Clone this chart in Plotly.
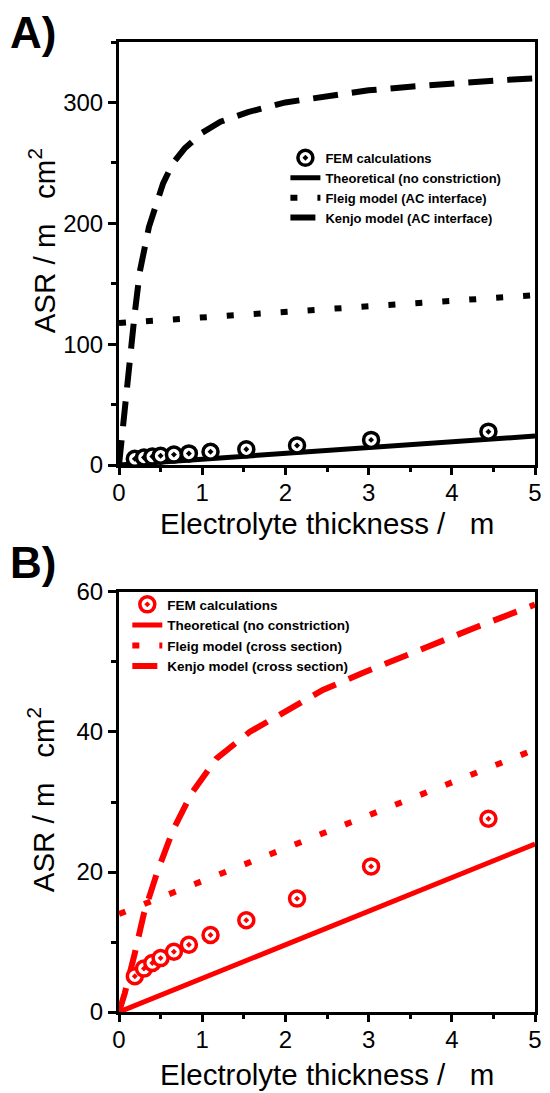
import plotly.graph_objects as go

# ---------------- data ----------------
thickness_fem = [0.19, 0.30, 0.40, 0.50, 0.66, 0.84, 1.10, 1.53, 2.14, 3.03, 4.44]
asr_fem = [5.1, 6.2, 7.0, 7.7, 8.6, 9.6, 11.0, 13.1, 16.2, 20.8, 27.6]

theo_x = [0, 5]
theo_y = [0, 24]

fleig_ac_x = [0, 5]
fleig_ac_y = [117.5, 140.5]

kenjo_ac_x = [0, 0.035, 0.075, 0.12, 0.19, 0.25, 0.36, 0.53, 0.65, 0.79, 1.0, 1.22, 1.55,
              2.0, 2.5, 3.0, 3.5, 4.0, 4.5, 5.0]
kenjo_ac_y = [0, 23, 52, 90, 126, 160, 197, 233, 250, 262, 275, 284, 292,
              300, 305, 310, 313, 316, 318, 320]

fleig_cs_x = [0, 5]
fleig_cs_y = [14.0, 37.5]

kenjo_cs_x = [0, 0.07, 0.19, 0.30, 0.46, 0.65, 0.87, 1.17, 1.57, 2.0, 2.45, 2.92, 3.35,
              3.83, 4.3, 4.78, 5.0]
kenjo_cs_y = [0, 2.7, 8.4, 14.1, 20.0, 26.0, 31.2, 36.2, 40.0, 43.0, 46.0, 48.4, 50.5,
              52.7, 55.0, 57.2, 58.2]

x_title = "Electrolyte thickness /   m"
y_title = "ASR / m   cm<sup>2</sup>"

FONT = "Liberation Sans, Arial, sans-serif"
BLACK = "#000000"
RED = "#ff0000"

fig = go.Figure()


def add_panel(color, xa, ya, legend, kx, ky, fx, fy, fleig_name, kenjo_name):
    fig.add_trace(go.Scatter(x=theo_x, y=theo_y, mode="lines", xaxis=xa, yaxis=ya,
                             name="Theoretical (no constriction)", legend=legend, legendrank=2,
                             line=dict(color=color, width=5)))
    fig.add_trace(go.Scatter(x=fx, y=fy, mode="lines", xaxis=xa, yaxis=ya,
                             name=fleig_name, legend=legend, legendrank=3,
                             line=dict(color=color, width=6, dash="7px,20px")))
    fig.add_trace(go.Scatter(x=kx, y=ky, mode="lines", xaxis=xa, yaxis=ya,
                             name=kenjo_name, legend=legend, legendrank=4,
                             line=dict(color=color, width=6, dash="25px,14px")))
    fig.add_trace(go.Scatter(x=thickness_fem, y=asr_fem, mode="markers", xaxis=xa, yaxis=ya,
                             name="FEM calculations", legend=legend, legendrank=1,
                             marker=dict(symbol="circle-dot", size=15, color="white",
                                         line=dict(color=color, width=3.5))))


add_panel(BLACK, "x", "y", "legend", kenjo_ac_x, kenjo_ac_y, fleig_ac_x, fleig_ac_y,
          "Fleig model (AC interface)", "Kenjo model (AC interface)")
add_panel(RED, "x2", "y2", "legend2", kenjo_cs_x, kenjo_cs_y, fleig_cs_x, fleig_cs_y,
          "Fleig model (cross section)", "Kenjo model (cross section)")

axis_common = dict(showline=True, linewidth=3, linecolor=BLACK, mirror=True,
                   ticks="outside", ticklen=8, tickwidth=3, tickcolor=BLACK,
                   showgrid=False, zeroline=False,
                   tickfont=dict(family=FONT, size=24, color=BLACK))

xa_common = dict(axis_common, range=[0, 5], dtick=1, tick0=0, ticklen=7,
                 ticklabelstandoff=-3,
                 minor=dict(dtick=0.5, ticks="outside", ticklen=4, tickwidth=3, tickcolor=BLACK))

TITLE_FONT = dict(family=FONT, size=29.5, color=BLACK)
PANEL_FONT = dict(family=FONT, size=44, color=BLACK)

fig.update_layout(
    width=550, height=1093,
    margin=dict(l=119, r=8, t=42, b=81),
    paper_bgcolor="white", plot_bgcolor="white",
    font=dict(family=FONT, color=BLACK),
    xaxis=dict(xa_common, domain=[0, 1], anchor="y"),
    yaxis=dict(axis_common, domain=[0.5639, 1], anchor="x", range=[0, 350], dtick=100,
               minor=dict(dtick=50, ticks="outside", ticklen=5, tickwidth=3, tickcolor=BLACK)),
    xaxis2=dict(xa_common, domain=[0, 1], anchor="y2"),
    yaxis2=dict(axis_common, domain=[0, 0.433], anchor="x2", range=[0, 60], dtick=20,
                minor=dict(dtick=10, ticks="outside", ticklen=5, tickwidth=3, tickcolor=BLACK)),
    legend=dict(x=0.40, y=0.896, xanchor="left", yanchor="top", bgcolor="rgba(0,0,0,0)",
                font=dict(family=FONT, size=13, color=BLACK, weight="bold"), tracegroupgap=0,
                itemwidth=30),
    legend2=dict(x=0.02, y=0.436, xanchor="left", yanchor="top", bgcolor="rgba(0,0,0,0)",
                 font=dict(family=FONT, size=13.5, color=BLACK, weight="bold"), tracegroupgap=0,
                 itemwidth=30),
    annotations=[
        dict(text="<b>A)</b>", xref="paper", yref="paper", x=-0.267, y=1.0093,
             xanchor="left", yanchor="middle", showarrow=False, font=PANEL_FONT),
        dict(text="<b>B)</b>", xref="paper", yref="paper", x=-0.267, y=0.4639,
             xanchor="left", yanchor="middle", showarrow=False, font=PANEL_FONT),
        dict(text=x_title, xref="paper", yref="paper", x=0.5, y=0.5041,
             xanchor="center", yanchor="middle", showarrow=False, font=TITLE_FONT),
        dict(text=x_title, xref="paper", yref="paper", x=0.5, y=-0.064,
             xanchor="center", yanchor="middle", showarrow=False, font=TITLE_FONT),
        dict(text=y_title, xref="paper", yref="paper", x=-0.1868, y=0.7948, textangle=-90,
             xanchor="center", yanchor="middle", showarrow=False, font=TITLE_FONT),
        dict(text=y_title, xref="paper", yref="paper", x=-0.1868, y=0.2186, textangle=-90,
             xanchor="center", yanchor="middle", showarrow=False, font=TITLE_FONT),
    ],
)

fig.write_html("out.html")
